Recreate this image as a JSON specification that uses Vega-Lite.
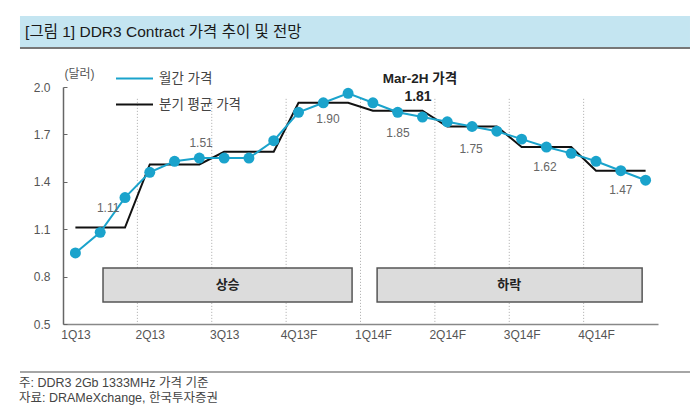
{
  "$schema": "https://vega.github.io/schema/vega-lite/v6.json",
  "width": 595,
  "height": 237,
  "autosize": "none",
  "padding": {"left": 63, "top": 87, "right": 42, "bottom": 96},
  "background": "white",
  "config": {
    "font": "Liberation Sans, Noto Sans CJK KR",
    "view": {"stroke": null},
    "legend": {
      "orient": "none",
      "legendX": 52,
      "legendY": -28,
      "symbolType": "stroke",
      "symbolSize": 1369,
      "symbolStrokeWidth": 2,
      "labelFontSize": 13.5,
      "labelColor": "#444",
      "labelOffset": 5,
      "rowPadding": -16,
      "title": null
    }
  },
  "datasets": {
    "monthly": [
      {"month": 0, "price": 0.95}, {"month": 1, "price": 1.08}, {"month": 2, "price": 1.30},
      {"month": 3, "price": 1.46}, {"month": 4, "price": 1.53}, {"month": 5, "price": 1.55},
      {"month": 6, "price": 1.55}, {"month": 7, "price": 1.55}, {"month": 8, "price": 1.66},
      {"month": 9, "price": 1.84}, {"month": 10, "price": 1.90}, {"month": 11, "price": 1.96},
      {"month": 12, "price": 1.90}, {"month": 13, "price": 1.84}, {"month": 14, "price": 1.81},
      {"month": 15, "price": 1.78}, {"month": 16, "price": 1.75}, {"month": 17, "price": 1.72},
      {"month": 18, "price": 1.67}, {"month": 19, "price": 1.62}, {"month": 20, "price": 1.58},
      {"month": 21, "price": 1.53}, {"month": 22, "price": 1.47}, {"month": 23, "price": 1.41}
    ],
    "quarterly": [
      {"month": 0, "avg": 1.11}, {"month": 1, "avg": 1.11}, {"month": 2, "avg": 1.11},
      {"month": 3, "avg": 1.51}, {"month": 4, "avg": 1.51}, {"month": 5, "avg": 1.51},
      {"month": 6, "avg": 1.59}, {"month": 7, "avg": 1.59}, {"month": 8, "avg": 1.59},
      {"month": 9, "avg": 1.90}, {"month": 10, "avg": 1.90}, {"month": 11, "avg": 1.90},
      {"month": 12, "avg": 1.85}, {"month": 13, "avg": 1.85}, {"month": 14, "avg": 1.85},
      {"month": 15, "avg": 1.75}, {"month": 16, "avg": 1.75}, {"month": 17, "avg": 1.75},
      {"month": 18, "avg": 1.62}, {"month": 19, "avg": 1.62}, {"month": 20, "avg": 1.62},
      {"month": 21, "avg": 1.47}, {"month": 22, "avg": 1.47}, {"month": 23, "avg": 1.47}
    ],
    "bounds": [{"b": 2.5}, {"b": 5.5}, {"b": 8.5}, {"b": 11.5}, {"b": 14.5}, {"b": 17.5}, {"b": 20.5}],
    "labels": [
      {"x": 1.32, "y": 1.234, "t": "1.11"},
      {"x": 5.07, "y": 1.646, "t": "1.51"},
      {"x": 10.19, "y": 1.797, "t": "1.90"},
      {"x": 13.01, "y": 1.709, "t": "1.85"},
      {"x": 15.96, "y": 1.608, "t": "1.75"},
      {"x": 18.94, "y": 1.494, "t": "1.62"},
      {"x": 22.0, "y": 1.348, "t": "1.47"}
    ],
    "phases": [
      {"x1": 1.114, "x2": 11.16, "xc": 6.14, "t": "상승"},
      {"x1": 12.17, "x2": 22.86, "xc": 17.5, "t": "하락"}
    ],
    "notes": [
      {"y": 0.127, "t": "주: DDR3 2Gb 1333MHz 가격 기준"},
      {"y": 0.032, "t": "자료: DRAMeXchange, 한국투자증권"}
    ],
    "one": [{}]
  },
  "layer": [
    {
      "data": {"name": "one"},
      "mark": {"type": "rect", "fill": "#c4e5f1"},
      "encoding": {
        "x": {"datum": -2.235, "type": "quantitative", "scale": {"domain": [-0.5, 23.5], "nice": false, "zero": false}, "axis": {"values": [0, 3, 6, 9, 12, 15, 18, 21], "labelExpr": "['1Q13','2Q13','3Q13','4Q13F','1Q14F','2Q14F','3Q14F','4Q14F'][round(datum.value/3)]", "title": null, "grid": false, "ticks": false, "domainColor": "#888", "domainWidth": 1.5, "labelFontSize": 12, "labelColor": "#555", "labelPadding": 5}},
        "x2": {"datum": 24.79},
        "y": {"datum": 2.449, "type": "quantitative", "scale": {"domain": [0.5, 2.0], "nice": false, "zero": false}, "axis": {"values": [0.5, 0.8, 1.1, 1.4, 1.7, 2.0], "format": ".1f", "grid": false, "title": "(달러)", "titleAngle": 0, "titleX": 16, "titleY": -14, "titleAlign": "center", "titleBaseline": "middle", "titleFontWeight": "normal", "titleFontSize": 12, "titleColor": "#555", "domainColor": "#666", "domainWidth": 1.5, "tickColor": "#666", "tickSize": -4, "labelPadding": 17, "labelFontSize": 12, "labelColor": "#555"}},
        "y2": {"datum": 2.253}
      }
    },
    {
      "data": {"name": "one"},
      "mark": {"type": "rule", "stroke": "#777", "strokeWidth": 2},
      "encoding": {
        "x": {"datum": -2.235, "type": "quantitative"},
        "x2": {"datum": 24.79},
        "y": {"datum": 2.247, "type": "quantitative"}
      }
    },
    {
      "data": {"name": "one"},
      "mark": {"type": "text", "align": "left", "baseline": "middle", "fontSize": 15.5, "color": "#1a1a1a"},
      "encoding": {
        "x": {"datum": -2.03, "type": "quantitative"},
        "y": {"datum": 2.35, "type": "quantitative"},
        "text": {"value": "[그림 1] DDR3 Contract 가격 추이 및 전망"}
      }
    },
    {
      "data": {"name": "bounds"},
      "mark": {"type": "rule", "stroke": "#aaa", "strokeWidth": 1, "strokeDash": [1, 2]},
      "encoding": {
        "x": {"field": "b", "type": "quantitative"},
        "y": {"datum": 1.925, "type": "quantitative"},
        "y2": {"datum": 0.5}
      }
    },
    {
      "data": {"name": "phases"},
      "mark": {"type": "rect", "fill": "#dcdcdc", "stroke": "#555", "strokeWidth": 1.5},
      "encoding": {
        "x": {"field": "x1", "type": "quantitative"},
        "x2": {"field": "x2"},
        "y": {"datum": 0.854, "type": "quantitative"},
        "y2": {"datum": 0.639}
      }
    },
    {
      "data": {"name": "phases"},
      "mark": {"type": "text", "fontSize": 13, "fontWeight": "bold", "color": "#222", "baseline": "middle"},
      "encoding": {
        "x": {"field": "xc", "type": "quantitative"},
        "y": {"datum": 0.745, "type": "quantitative"},
        "text": {"field": "t"}
      }
    },
    {
      "data": {"name": "quarterly"},
      "mark": {"type": "line", "strokeWidth": 2},
      "encoding": {
        "x": {"field": "month", "type": "quantitative"},
        "y": {"field": "avg", "type": "quantitative"},
        "color": {"datum": "분기 평균 가격", "type": "nominal", "scale": {"domain": ["월간 가격", "분기 평균 가격"], "range": ["#1aa3cc", "#111111"]}}
      }
    },
    {
      "data": {"name": "monthly"},
      "mark": {"type": "line", "strokeWidth": 2, "point": {"filled": true, "size": 120}},
      "encoding": {
        "x": {"field": "month", "type": "quantitative"},
        "y": {"field": "price", "type": "quantitative"},
        "color": {"datum": "월간 가격", "type": "nominal"}
      }
    },
    {
      "data": {"name": "labels"},
      "mark": {"type": "text", "fontSize": 12, "color": "#666", "baseline": "middle"},
      "encoding": {
        "x": {"field": "x", "type": "quantitative"},
        "y": {"field": "y", "type": "quantitative"},
        "text": {"field": "t"}
      }
    },
    {
      "data": {"name": "one"},
      "mark": {"type": "text", "fontSize": 13.5, "fontWeight": "bold", "color": "#222", "baseline": "middle"},
      "encoding": {
        "x": {"datum": 13.9, "type": "quantitative"},
        "y": {"datum": 2.051, "type": "quantitative"},
        "text": {"value": "Mar-2H 가격"}
      }
    },
    {
      "data": {"name": "one"},
      "mark": {"type": "text", "fontSize": 14, "fontWeight": "bold", "color": "#222", "baseline": "middle"},
      "encoding": {
        "x": {"datum": 13.82, "type": "quantitative"},
        "y": {"datum": 1.937, "type": "quantitative"},
        "text": {"value": "1.81"}
      }
    },
    {
      "data": {"name": "one"},
      "mark": {"type": "rule", "stroke": "#888", "strokeWidth": 1.5},
      "encoding": {
        "x": {"datum": -2.235, "type": "quantitative"},
        "x2": {"datum": 24.79},
        "y": {"datum": 0.196, "type": "quantitative"}
      }
    },
    {
      "data": {"name": "notes"},
      "mark": {"type": "text", "align": "left", "baseline": "middle", "fontSize": 12.5, "color": "#444"},
      "encoding": {
        "x": {"datum": -2.275, "type": "quantitative"},
        "y": {"field": "y", "type": "quantitative"},
        "text": {"field": "t"}
      }
    }
  ]
}
